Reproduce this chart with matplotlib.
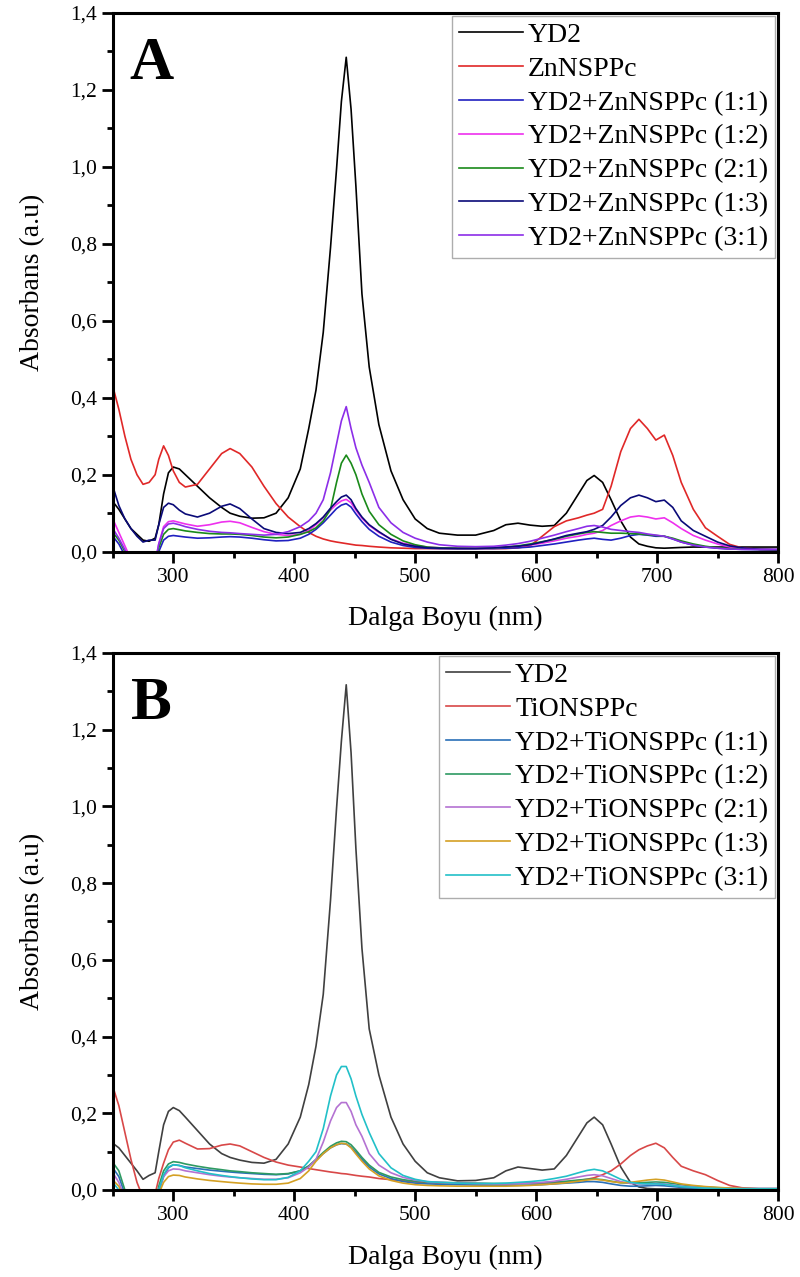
import numpy as np
import matplotlib.pyplot as plt
from matplotlib.ticker import MultipleLocator

plt.rcParams['font.family'] = ['Liberation Serif', 'DejaVu Serif']

# wavelength grid (nm), read points
wl = [250, 255, 260, 265, 270, 275, 280, 285, 288, 292,
      296, 300, 305, 310, 320, 330, 340, 347, 355, 365,
      375, 385, 395, 405, 412, 418, 424, 430, 435, 439,
      443, 447, 451, 456, 462, 470, 480, 490, 500, 510,
      520, 535, 550, 565, 575, 585, 595, 605, 615, 625,
      635, 642, 648, 655, 662, 670, 678, 685, 692, 699,
      706, 713, 720, 730, 740, 750, 760, 770, 785, 800]

# ---- panel A : YD2 + ZnNSPPc
a_yd2 = [0.13, 0.11, 0.085, 0.06, 0.045, 0.03, 0.027, 0.035, 0.07, 0.15,
         0.205, 0.22, 0.215, 0.2, 0.17, 0.14, 0.115, 0.1, 0.092, 0.087,
         0.088, 0.1, 0.14, 0.215, 0.32, 0.42, 0.57, 0.79, 0.995, 1.17,
         1.285, 1.15, 0.95, 0.67, 0.48, 0.33, 0.21, 0.135, 0.085, 0.06,
         0.048, 0.043, 0.043, 0.055, 0.07, 0.074, 0.069, 0.066, 0.068, 0.1,
         0.15, 0.185, 0.198, 0.18, 0.135, 0.08, 0.038, 0.02, 0.014, 0.01,
         0.009, 0.01, 0.011, 0.012, 0.012, 0.012, 0.012, 0.012, 0.012, 0.012]
a_znpc = [0.43, 0.37, 0.3, 0.24, 0.2, 0.175, 0.18, 0.2, 0.24, 0.275,
          0.25, 0.21, 0.18, 0.168, 0.175, 0.215, 0.255, 0.268, 0.255, 0.22,
          0.17, 0.125, 0.09, 0.065, 0.05, 0.04, 0.033, 0.028, 0.025, 0.023,
          0.021, 0.019, 0.017, 0.016, 0.014, 0.012, 0.01, 0.009, 0.008, 0.008,
          0.008, 0.008, 0.008, 0.008, 0.008, 0.01, 0.015, 0.04, 0.065, 0.08,
          0.088, 0.095, 0.1, 0.11, 0.17, 0.26, 0.32, 0.344, 0.32, 0.29,
          0.303, 0.25, 0.18, 0.11, 0.062, 0.04, 0.019, 0.01, 0.006, 0.005]
a_11 = [0.04, 0.02, -0.01, -0.04, -0.06, -0.06, -0.06, -0.04, 0.0, 0.03,
        0.04, 0.042, 0.04, 0.038, 0.035, 0.036, 0.038, 0.039, 0.038, 0.035,
        0.031, 0.028, 0.029, 0.035, 0.045, 0.058, 0.075, 0.095, 0.112, 0.121,
        0.125, 0.116, 0.098, 0.078, 0.058, 0.04, 0.025, 0.016, 0.011, 0.009,
        0.008, 0.008, 0.008, 0.008, 0.009, 0.01, 0.012, 0.016, 0.02, 0.025,
        0.03, 0.033, 0.035, 0.032, 0.03, 0.035, 0.042, 0.045, 0.043, 0.04,
        0.04, 0.033, 0.025, 0.017, 0.012, 0.009, 0.007, 0.006, 0.005, 0.005]
a_12 = [0.085, 0.05, 0.015, -0.02, -0.05, -0.06, -0.06, -0.03, 0.02, 0.065,
        0.078, 0.08, 0.076, 0.072, 0.066, 0.07, 0.077, 0.079, 0.075, 0.063,
        0.052, 0.045, 0.042, 0.045, 0.055, 0.07, 0.088, 0.108, 0.123, 0.132,
        0.136, 0.127, 0.108, 0.087, 0.068, 0.05, 0.033, 0.022, 0.016, 0.012,
        0.01, 0.009, 0.009, 0.01, 0.012, 0.014, 0.017, 0.022, 0.028, 0.035,
        0.04, 0.045, 0.048, 0.055, 0.068, 0.08, 0.09, 0.093, 0.09, 0.085,
        0.088, 0.075, 0.06, 0.042, 0.03, 0.02, 0.012, 0.008, 0.006, 0.005]
a_21 = [0.05, 0.03, 0.0, -0.03, -0.06, -0.06, -0.06, -0.04, 0.01, 0.045,
        0.058, 0.06, 0.057, 0.054, 0.05, 0.047, 0.046, 0.046, 0.045, 0.042,
        0.038, 0.036, 0.038, 0.045, 0.052, 0.062, 0.08, 0.11, 0.18, 0.23,
        0.251, 0.23, 0.2, 0.15, 0.105, 0.07, 0.045, 0.028, 0.018, 0.012,
        0.01, 0.009, 0.009, 0.01, 0.012, 0.015, 0.02, 0.026, 0.032, 0.04,
        0.046, 0.05, 0.052, 0.05, 0.048, 0.048, 0.047, 0.046, 0.044, 0.042,
        0.04, 0.035, 0.028, 0.02, 0.014, 0.01, 0.008, 0.007, 0.006, 0.005]
a_13 = [0.17, 0.12, 0.085, 0.06, 0.04, 0.025, 0.03, 0.03, 0.07, 0.115,
        0.126, 0.122, 0.108, 0.098, 0.09, 0.1, 0.118, 0.124, 0.112, 0.085,
        0.06, 0.05, 0.047, 0.05, 0.06, 0.073, 0.09, 0.113, 0.13, 0.142,
        0.147, 0.135, 0.112, 0.09, 0.07, 0.052, 0.032, 0.02, 0.014, 0.01,
        0.009, 0.008, 0.008, 0.01, 0.012, 0.014, 0.018, 0.025, 0.033, 0.042,
        0.048, 0.052, 0.058, 0.068, 0.09, 0.12, 0.14, 0.147, 0.14, 0.13,
        0.134, 0.115, 0.08, 0.055, 0.04, 0.025, 0.015, 0.01, 0.006, 0.005]
a_31 = [0.06, 0.035, 0.005, -0.03, -0.06, -0.06, -0.06, -0.03, 0.02, 0.06,
        0.072, 0.074, 0.07, 0.065, 0.058, 0.053, 0.05, 0.049, 0.047, 0.045,
        0.043, 0.045, 0.052, 0.065, 0.08, 0.1, 0.135, 0.205, 0.28, 0.34,
        0.377, 0.32, 0.27, 0.225, 0.18, 0.115, 0.075, 0.05, 0.035, 0.025,
        0.018, 0.014, 0.013, 0.014, 0.017, 0.021, 0.027, 0.035, 0.043, 0.052,
        0.06, 0.066, 0.068, 0.064, 0.058, 0.055, 0.052, 0.05, 0.046, 0.043,
        0.04, 0.033, 0.025, 0.017, 0.012, 0.009, 0.007, 0.006, 0.006, 0.006]

# ---- panel B : YD2 + TiONSPPc
b_yd2 = [0.122, 0.11, 0.09, 0.07, 0.05, 0.028, 0.038, 0.045, 0.1, 0.17,
         0.205, 0.215, 0.207, 0.19, 0.155, 0.12, 0.095, 0.085, 0.078, 0.072,
         0.07, 0.08, 0.12, 0.19, 0.275, 0.375, 0.51, 0.755, 0.995, 1.17,
         1.317, 1.14, 0.89, 0.63, 0.42, 0.3, 0.19, 0.12, 0.075, 0.045,
         0.032, 0.024, 0.025, 0.032, 0.05, 0.06, 0.056, 0.052, 0.055, 0.09,
         0.14, 0.175, 0.19, 0.17, 0.12, 0.06, 0.02, 0.008, 0.004, 0.003,
         0.003, 0.003, 0.003, 0.003, 0.003, 0.003, 0.003, 0.003, 0.003, 0.003]
b_tipc = [0.27, 0.22, 0.15, 0.08, 0.02, -0.02, -0.04, -0.01, 0.03, 0.07,
          0.105, 0.125, 0.13, 0.122, 0.107, 0.108, 0.117, 0.12, 0.115, 0.1,
          0.085, 0.073, 0.065, 0.06, 0.056, 0.053, 0.05, 0.047, 0.045, 0.043,
          0.042, 0.04, 0.038, 0.036, 0.034, 0.03, 0.027, 0.024, 0.021, 0.019,
          0.018, 0.016, 0.016, 0.016, 0.016, 0.017, 0.018, 0.018, 0.019, 0.021,
          0.025, 0.028, 0.032, 0.04, 0.05, 0.068, 0.09, 0.105, 0.115, 0.122,
          0.11, 0.085, 0.062, 0.05, 0.04, 0.025, 0.012, 0.006, 0.003, 0.002]
b_11 = [0.058, 0.035, -0.01, -0.05, -0.07, -0.07, -0.07, -0.05, -0.005, 0.035,
        0.058, 0.066, 0.064, 0.06, 0.056, 0.052, 0.049, 0.047, 0.045, 0.043,
        0.041, 0.04, 0.042, 0.05, 0.062, 0.078, 0.095, 0.11, 0.118, 0.121,
        0.12, 0.112, 0.098, 0.08, 0.06, 0.042, 0.03, 0.022, 0.018, 0.016,
        0.015, 0.014, 0.013, 0.012, 0.012, 0.012, 0.013, 0.014, 0.016, 0.018,
        0.02, 0.022, 0.022, 0.02, 0.016, 0.012, 0.01, 0.01, 0.011, 0.012,
        0.011, 0.009, 0.007, 0.005, 0.004, 0.003, 0.003, 0.003, 0.003, 0.003]
b_12 = [0.072, 0.05, 0.0, -0.04, -0.07, -0.07, -0.07, -0.04, 0.01, 0.05,
        0.068, 0.074, 0.072, 0.068, 0.062, 0.057, 0.053, 0.05, 0.048, 0.045,
        0.043, 0.041, 0.043, 0.05, 0.063, 0.08, 0.098, 0.114, 0.123, 0.127,
        0.126, 0.118, 0.104, 0.085, 0.065, 0.046, 0.034, 0.027, 0.023, 0.021,
        0.02, 0.019, 0.018, 0.017, 0.017, 0.017, 0.018, 0.019, 0.021, 0.023,
        0.026, 0.028, 0.029, 0.027, 0.023, 0.019, 0.018, 0.019, 0.02, 0.021,
        0.02, 0.017, 0.014, 0.01, 0.008, 0.006, 0.005, 0.004, 0.004, 0.004]
b_21 = [0.045, 0.02, -0.02, -0.06, -0.07, -0.07, -0.07, -0.05, 0.0, 0.035,
        0.05, 0.055, 0.054, 0.05, 0.045, 0.04, 0.036, 0.034, 0.032, 0.03,
        0.028, 0.028, 0.032, 0.045, 0.06, 0.08, 0.125, 0.18, 0.215, 0.228,
        0.228, 0.205, 0.17, 0.14, 0.095, 0.065, 0.045, 0.033, 0.026, 0.022,
        0.02, 0.018, 0.017, 0.016, 0.016, 0.017, 0.018, 0.02, 0.023, 0.028,
        0.034, 0.038, 0.04, 0.037, 0.03, 0.022, 0.017, 0.016, 0.016, 0.017,
        0.016, 0.013, 0.01, 0.008, 0.006, 0.005, 0.004, 0.004, 0.004, 0.004]
b_13 = [0.026, 0.01, -0.03, -0.07, -0.08, -0.08, -0.08, -0.06, -0.01, 0.02,
        0.035, 0.039, 0.038, 0.034, 0.029, 0.025, 0.022, 0.02, 0.018, 0.016,
        0.015, 0.015, 0.018, 0.03, 0.05, 0.075, 0.095, 0.11, 0.118, 0.122,
        0.12, 0.11, 0.094, 0.075, 0.055, 0.037, 0.025, 0.018, 0.014, 0.012,
        0.011, 0.01, 0.01, 0.01, 0.01, 0.011, 0.012, 0.014, 0.016, 0.019,
        0.023, 0.026, 0.028, 0.026, 0.022, 0.019, 0.02, 0.023, 0.026, 0.028,
        0.026, 0.021, 0.016, 0.012, 0.009, 0.007, 0.005, 0.004, 0.003, 0.003]
b_31 = [0.02, 0.0, -0.04, -0.07, -0.08, -0.08, -0.08, -0.05, 0.0, 0.04,
        0.06, 0.066, 0.064, 0.058, 0.05, 0.043, 0.038, 0.035, 0.032, 0.029,
        0.027, 0.027, 0.033, 0.05, 0.075, 0.1, 0.16, 0.245, 0.3, 0.322,
        0.322, 0.29, 0.245, 0.197, 0.15, 0.095, 0.058, 0.038, 0.028, 0.022,
        0.02, 0.018, 0.017, 0.017, 0.018, 0.02, 0.022, 0.025, 0.03, 0.036,
        0.045, 0.051, 0.054, 0.05, 0.04, 0.028, 0.02, 0.017, 0.016, 0.016,
        0.015, 0.012, 0.009, 0.007, 0.005, 0.004, 0.003, 0.003, 0.003, 0.003]

labels_a = ["YD2", "ZnNSPPc", "YD2+ZnNSPPc (1:1)", "YD2+ZnNSPPc (1:2)",
            "YD2+ZnNSPPc (2:1)", "YD2+ZnNSPPc (1:3)", "YD2+ZnNSPPc (3:1)"]
labels_b = ["YD2", "TiONSPPc", "YD2+TiONSPPc (1:1)", "YD2+TiONSPPc (1:2)",
            "YD2+TiONSPPc (2:1)", "YD2+TiONSPPc (1:3)", "YD2+TiONSPPc (3:1)"]
colors_a = ["#000000", "#e02828", "#2020c0", "#ee30ee", "#1a8a1a", "#0a0a78", "#8c2ee8"]
colors_b = ["#404040", "#d84848", "#2a70b8", "#2e9a62", "#b472d2", "#d4a024", "#22c0c8"]

y_ticks = [0.0, 0.2, 0.4, 0.6, 0.8, 1.0, 1.2, 1.4]
y_tick_labels = ["0,0", "0,2", "0,4", "0,6", "0,8", "1,0", "1,2", "1,4"]
x_ticks = [300, 400, 500, 600, 700, 800]

fig = plt.figure(figsize=(8, 12.77), dpi=100)
ax_a = fig.add_axes([0.141, 0.568, 0.8315, 0.4218])
ax_b = fig.add_axes([0.141, 0.0681, 0.8315, 0.4206])


def draw(ax, series, labels, colors, letter):
    for ys, lab, c in zip(series, labels, colors):
        ax.plot(wl, ys, color=c, lw=1.2, label=lab)
    ax.set_xlim(250, 800)
    ax.set_ylim(0, 1.4)
    ax.set_xticks(x_ticks)
    ax.set_yticks(y_ticks)
    ax.set_yticklabels(y_tick_labels)
    ax.xaxis.set_minor_locator(MultipleLocator(50))
    ax.yaxis.set_minor_locator(MultipleLocator(0.1))
    ax.tick_params(which='major', direction='out', length=8, width=2, labelsize=15.5)
    ax.tick_params(which='minor', direction='out', length=4, width=2)
    for s in ax.spines.values():
        s.set_linewidth(2.2)
    ax.set_xlabel("Dalga Boyu (nm)", fontsize=20, labelpad=14)
    ax.set_ylabel("Absorbans (a.u)", fontsize=20, labelpad=18)
    ax.text(0.058, 0.905, letter, transform=ax.transAxes, fontsize=44,
            fontweight='bold', ha='center', va='center')
    leg = ax.legend(loc='upper right', fontsize=20, frameon=True, fancybox=False,
                    edgecolor='#999999', borderaxespad=0.1, handlelength=2.3,
                    handletextpad=0.2, labelspacing=0.3, borderpad=0.25)
    leg.get_frame().set_linewidth(1.0)
    for ln in leg.get_lines():
        ln.set_linewidth(1.2)


draw(ax_a, [a_yd2, a_znpc, a_11, a_12, a_21, a_13, a_31], labels_a, colors_a, "A")
draw(ax_b, [b_yd2, b_tipc, b_11, b_12, b_21, b_13, b_31], labels_b, colors_b, "B")

fig.savefig("out.png", dpi=100)
